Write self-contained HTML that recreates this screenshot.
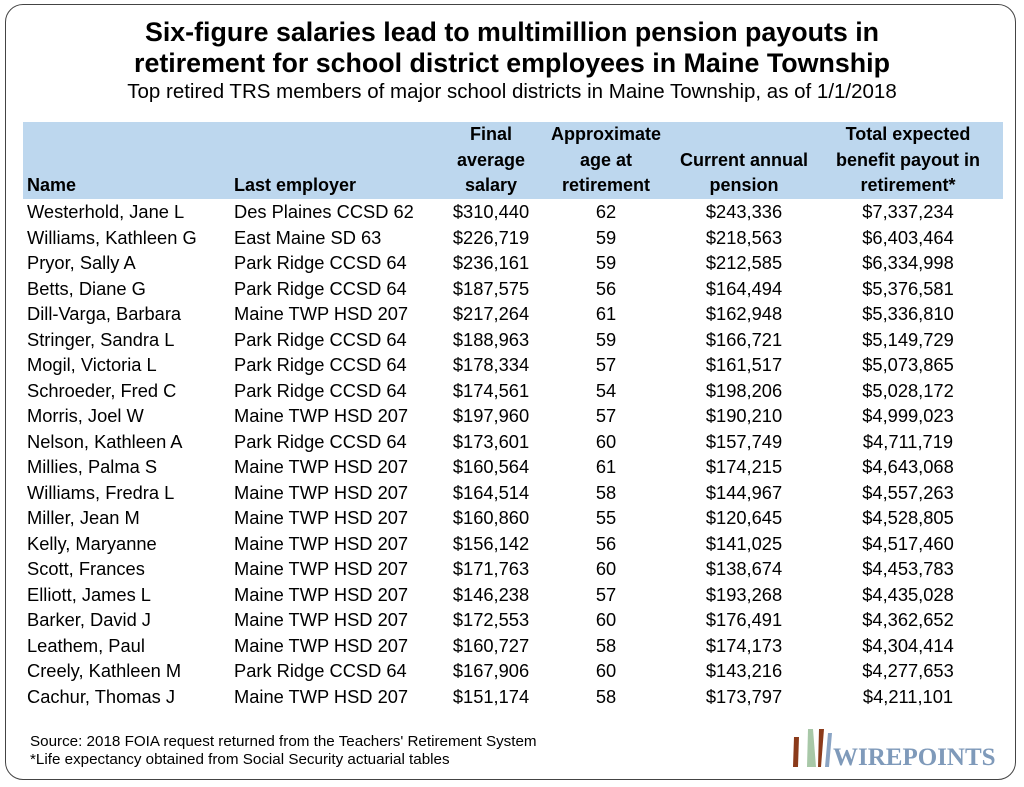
<!DOCTYPE html>
<html><head><meta charset="utf-8">
<style>
body{margin:0;width:1024px;height:787px;background:#fff;font-family:"Liberation Sans",Arial,sans-serif;position:relative;overflow:hidden}
#frame{position:absolute;left:5px;top:4px;width:1011px;height:776px;border:1.5px solid #444;border-radius:18px;box-sizing:border-box}
.t{position:absolute;left:0;width:1024px;text-align:center;color:#000}
#hdr{position:absolute;left:23px;top:122px;width:980px;height:77px;background:#bdd7ee}
.h{position:absolute;font-weight:bold;font-size:18px;line-height:25.5px;text-align:center}
.r{position:absolute;left:23px;width:980px;height:25.5px;font-size:18.3px;line-height:25.5px}
.r span{position:absolute;white-space:nowrap}
.c{text-align:center}
.src{position:absolute;left:30px;font-size:15.2px;color:#000}
</style></head><body>
<div id="frame"></div>
<div class="t" style="top:17px;font-size:26.8px;font-weight:bold;line-height:31px">Six-figure salaries lead to multimillion pension payouts in<br>retirement for school district employees in Maine Township</div>
<div class="t" style="top:80px;font-size:20.5px">Top retired TRS members of major school districts in Maine Township, as of 1/1/2018</div>
<div id="hdr">
<div class="h" style="left:4px;top:51px;text-align:left">Name</div>
<div class="h" style="left:211px;top:51px;text-align:left">Last employer</div>
<div class="h" style="left:408px;width:120px;top:0">Final<br>average<br>salary</div>
<div class="h" style="left:518px;width:130px;top:0">Approximate<br>age at<br>retirement</div>
<div class="h" style="left:641px;width:160px;top:25.5px">Current annual<br>pension</div>
<div class="h" style="left:800px;width:170px;top:0">Total expected<br>benefit payout in<br>retirement*</div>
</div>
<div id="rows"></div>
<div class="src" style="top:733px">Source: 2018 FOIA request returned from the Teachers' Retirement System</div>
<div class="src" style="top:751px">*Life expectancy obtained from Social Security actuarial tables</div>
<div style="position:absolute;left:790px;top:725px;width:210px;height:45px">
<svg width="210" height="45"><polygon points="4,12 9,12 8,42 3,42" fill="#8b3a1a"/><polygon points="18,4 23,4 26,42 17,42" fill="#a8c8a8"/><polygon points="29,4 34,4 31,42 28,42" fill="#8b3a1a"/><polygon points="38,8 42,8 39,42 35,42" fill="#8aa4c4"/>
<text x="43" y="40" font-family="Liberation Serif,serif" font-weight="bold" font-size="25" fill="#7f9aba">WIREPOINTS</text></svg></div>
<script>
const names=["Westerhold, Jane L","Williams, Kathleen G","Pryor, Sally A","Betts, Diane G","Dill-Varga, Barbara","Stringer, Sandra L","Mogil, Victoria L","Schroeder, Fred C","Morris, Joel W","Nelson, Kathleen A","Millies, Palma S","Williams, Fredra L","Miller, Jean M","Kelly, Maryanne","Scott, Frances","Elliott, James L","Barker, David J","Leathem, Paul","Creely, Kathleen M","Cachur, Thomas J"];
const employers=["Des Plaines CCSD 62","East Maine SD 63","Park Ridge CCSD 64","Park Ridge CCSD 64","Maine TWP HSD 207","Park Ridge CCSD 64","Park Ridge CCSD 64","Park Ridge CCSD 64","Maine TWP HSD 207","Park Ridge CCSD 64","Maine TWP HSD 207","Maine TWP HSD 207","Maine TWP HSD 207","Maine TWP HSD 207","Maine TWP HSD 207","Maine TWP HSD 207","Maine TWP HSD 207","Maine TWP HSD 207","Park Ridge CCSD 64","Maine TWP HSD 207"];
const salaries=["$310,440","$226,719","$236,161","$187,575","$217,264","$188,963","$178,334","$174,561","$197,960","$173,601","$160,564","$164,514","$160,860","$156,142","$171,763","$146,238","$172,553","$160,727","$167,906","$151,174"];
const ages=["62","59","59","56","61","59","57","54","57","60","61","58","55","56","60","57","60","58","60","58"];
const pensions=["$243,336","$218,563","$212,585","$164,494","$162,948","$166,721","$161,517","$198,206","$190,210","$157,749","$174,215","$144,967","$120,645","$141,025","$138,674","$193,268","$176,491","$174,173","$143,216","$173,797"];
const totals=["$7,337,234","$6,403,464","$6,334,998","$5,376,581","$5,336,810","$5,149,729","$5,073,865","$5,028,172","$4,999,023","$4,711,719","$4,643,068","$4,557,263","$4,528,805","$4,517,460","$4,453,783","$4,435,028","$4,362,652","$4,304,414","$4,277,653","$4,211,101"];
const rows=document.getElementById('rows');
names.forEach((n,i)=>{
 const r=document.createElement('div');
 r.className='r';r.style.top=(199+i*25.5)+'px';
 
 
 r.innerHTML='<span style="left:4px">'+n+'</span><span style="left:211px">'+employers[i]+'</span><span class="c" style="left:408px;width:120px">'+salaries[i]+'</span><span class="c" style="left:518px;width:130px">'+ages[i]+'</span><span class="c" style="left:641px;width:160px">'+pensions[i]+'</span><span class="c" style="left:800px;width:170px">'+totals[i]+'</span>';
 rows.appendChild(r);
});
</script>
</body></html>
